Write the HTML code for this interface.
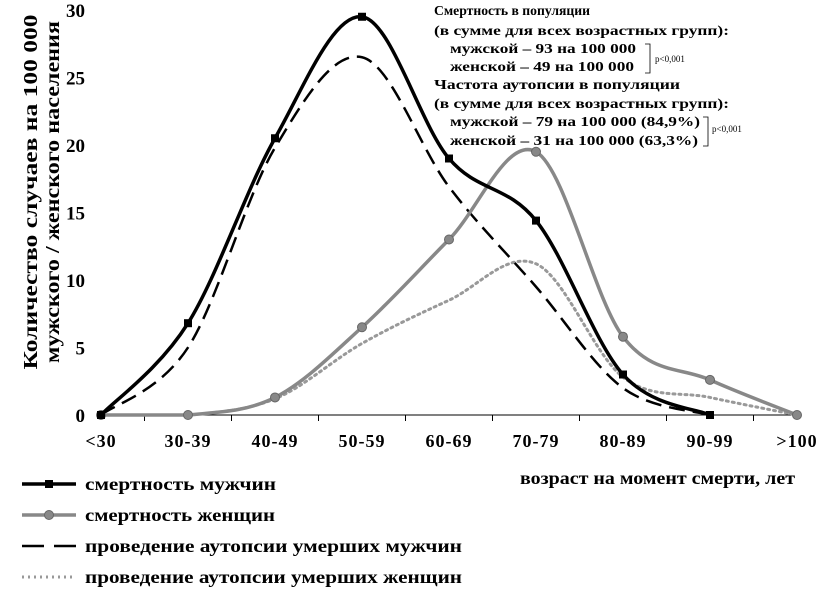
<!DOCTYPE html>
<html><head><meta charset="utf-8"><style>
body{margin:0;background:#fff;}
svg{display:block;font-family:"Liberation Serif","DejaVu Serif",serif;font-weight:bold;}
</style></head><body>
<svg width="829" height="591" viewBox="0 0 829 591">
<g id="axes"></g><g id="series"></g>
<g font-size="20">
<text transform="translate(37,192) rotate(-90)" text-anchor="middle" textLength="355" lengthAdjust="spacingAndGlyphs">Количество случаев на  100 000</text>
<text transform="translate(59,192) rotate(-90)" text-anchor="middle" textLength="342" lengthAdjust="spacingAndGlyphs">мужского / женского населения</text>
</g>
<text x="520" y="484" font-size="18" textLength="275" lengthAdjust="spacingAndGlyphs">возраст на момент смерти, лет</text>
<g font-size="14">
<text x="434" y="15" textLength="156" lengthAdjust="spacingAndGlyphs">Смертность в популяции</text>
<text x="434" y="35" textLength="295" lengthAdjust="spacingAndGlyphs">(в сумме для всех возрастных групп):</text>
<text x="450" y="53" textLength="186" lengthAdjust="spacingAndGlyphs">мужской – 93 на 100 000</text>
<text x="450" y="71" textLength="184" lengthAdjust="spacingAndGlyphs">женской – 49 на 100 000</text>
<path d="M645,44 H650 V73 H645" fill="none" stroke="#000" stroke-width="0.8"/>
<text x="655" y="62" font-size="9" font-weight="normal">p&lt;0,001</text>
<text x="434" y="89" textLength="246" lengthAdjust="spacingAndGlyphs">Частота аутопсии в популяции</text>
<text x="434" y="108" textLength="295" lengthAdjust="spacingAndGlyphs">(в сумме для всех возрастных групп):</text>
<text x="450" y="126" textLength="250" lengthAdjust="spacingAndGlyphs">мужской – 79 на 100 000 (84,9%)</text>
<text x="450" y="145" textLength="248" lengthAdjust="spacingAndGlyphs">женской – 31 на 100 000 (63,3%)</text>
<path d="M703,117 H708 V146 H703" fill="none" stroke="#000" stroke-width="0.8"/>
<text x="712" y="132" font-size="9" font-weight="normal">p&lt;0,001</text>
</g>
<g id="legend" font-size="18"></g>
</svg>
<script>
const categories=["<30","30-39","40-49","50-59","60-69","70-79","80-89","90-99",">100"];
const yTicks=[0,5,10,15,20,25,30];
const maleDeaths=[0,6.8,20.5,29.5,19,14.4,3,0,null];
const femaleDeaths=[0,0,1.3,6.5,13,19.5,5.8,2.6,0];
const maleAutopsy=[0,5,19.8,26.5,16.9,9.5,2,0,null];
const femaleAutopsy=[0,0,1.2,5.3,8.5,11.2,2.8,1.3,0];
const legendWidths=[191,190,377,377];
const NS="http://www.w3.org/2000/svg";
const x0=101,dx=87,y0=415,ky=13.5;
const X=i=>x0+i*dx, Y=v=>y0-v*ky;
function mk(t,a,p){const e=document.createElementNS(NS,t);for(const k in a)e.setAttribute(k,a[k]);p.appendChild(e);return e;}
const axes=document.getElementById('axes'),ser=document.getElementById('series'),leg=document.getElementById('legend');
const ax=mk('line',{x1:X(0),x2:X(8),y1:y0,y2:y0,stroke:'#000','stroke-width':1},axes);


for(let i=0;i<8;i++){const t=mk('line',{x1:X(i)+dx/2,x2:X(i)+dx/2,y1:y0,y2:y0+6,stroke:'#000'},axes);

}
categories.forEach((c,i)=>{const t=mk('text',{x:X(i),y:447,'text-anchor':'middle','font-size':18,'letter-spacing':1},axes);t.textContent=c;

});
yTicks.forEach(v=>{const t=mk('text',{x:85,y:Y(v)+7,'text-anchor':'end','font-size':19},axes);t.textContent=v;

});
const cl=y=>Math.min(y,y0);
function pathD(vals){const p=[];vals.forEach((v,i)=>{if(v!=null)p.push([X(i),Y(v)]);});
let d=`M${p[0][0]},${p[0][1]}`;
for(let i=0;i<p.length-1;i++){const a=p[i-1]||p[i],b=p[i],c=p[i+1],e=p[i+2]||c;
d+=` C${b[0]+(c[0]-a[0])/6},${cl(b[1]+(c[1]-a[1])/6)} ${c[0]-(e[0]-b[0])/6},${cl(c[1]-(e[1]-b[1])/6)} ${c[0]},${c[1]}`;}
return d;}
const defs=[
{v:femaleAutopsy,c:'#999',w:3,da:'2 4',m:null,n:'female-autopsy-line',l:'проведение аутопсии умерших женщин'},
{v:maleAutopsy,c:'#000',w:2.5,da:'16 8',m:null,n:'male-autopsy-line',l:'проведение аутопсии умерших мужчин'},
{v:femaleDeaths,c:'#888',w:3.5,da:null,m:'circle',n:'female-mortality-line',l:'смертность женщин'},
{v:maleDeaths,c:'#000',w:3.5,da:null,m:'square',n:'male-mortality-line',l:'смертность мужчин'}];
defs.forEach(s=>{const a={d:pathD(s.v),fill:'none',stroke:s.c,'stroke-width':s.w,'stroke-linecap':s.da&&s.da.startsWith('2')?'round':'butt'};
if(s.da)a['stroke-dasharray']=s.da;
const p=mk('path',a,ser);


s.v.forEach((v,i)=>{if(v==null||!s.m)return;let e;
if(s.m==='square')e=mk('rect',{x:X(i)-4,y:Y(v)-4,width:8,height:8,fill:'#000'},ser);
else e=mk('circle',{cx:X(i),cy:Y(v),r:4.5,fill:'#888',stroke:'#666'},ser);

});});
[defs[3],defs[2],defs[1],defs[0]].forEach((s,k)=>{const y=484+k*31;
const a={x1:22,x2:76,y1:y,y2:y,stroke:s.c,'stroke-width':s.w};if(s.da)a['stroke-dasharray']=s.da==='16 8'?'22 10':s.da;
const l=mk('line',a,leg);


if(s.m==='square'){const r=mk('rect',{x:45,y:y-4,width:8,height:8},leg);}
if(s.m==='circle'){const r=mk('circle',{cx:49,cy:y,r:4.5,fill:'#888',stroke:'#666'},leg);}
const t=mk('text',{x:85,y:y+6,textLength:legendWidths[k],lengthAdjust:'spacingAndGlyphs'},leg);t.textContent=s.l;

});
</script>
</body></html>
